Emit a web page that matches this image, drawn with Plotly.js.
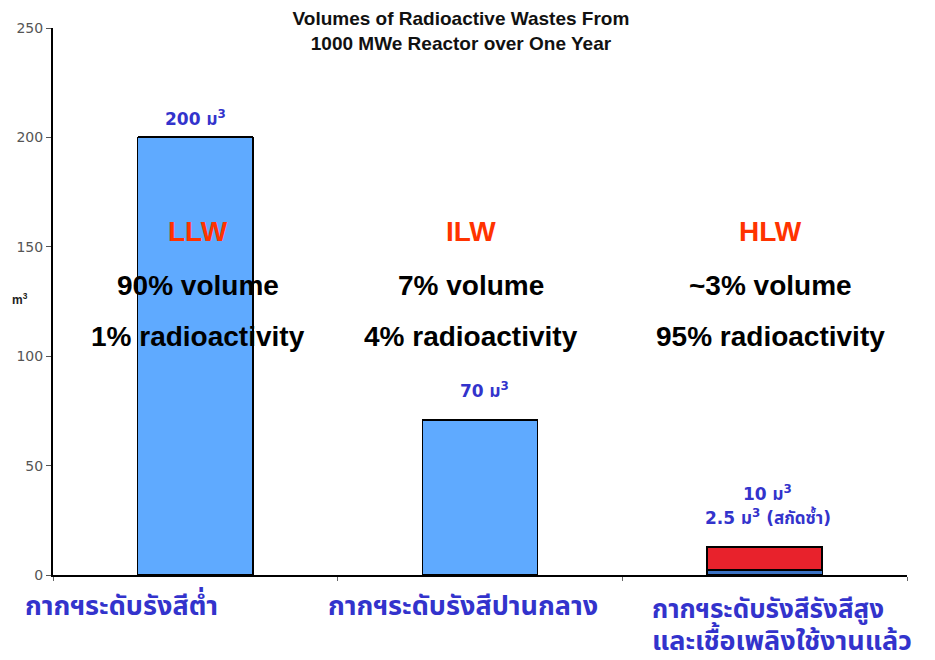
<!DOCTYPE html>
<html>
<head>
<meta charset="utf-8">
<script src="https://cdn.plot.ly/plotly-3.0.1.min.js"></script>
<style>html,body{margin:0;padding:0;background:#fff;}#chart{width:935px;height:660px;}</style>
</head>
<body>
<div id="chart"></div>
<script>
// Data
const categories = ["LLW", "ILW", "HLW"];
const baseVolumes = [200, 71, 2.5];     // m3 (blue)
const extraVolumes = [0, 0, 10.5];      // m3 (red, stacked on HLW)
const classNames = ["LLW", "ILW", "HLW"];
const volumeShare = ["90% volume", "7% volume", "~3% volume"];
const activityShare = ["1% radioactivity", "4% radioactivity", "95% radioactivity"];
const valueLabels = ["200 ม<sup>3</sup>", "70 ม<sup>3</sup>", "10 ม<sup>3</sup>"];
const hlwSubLabel = "2.5 ม<sup>3</sup> (สกัดซ้ำ)";
const thaiLabels = ["กากฯระดับรังสีต่ำ", "กากฯระดับรังสีปานกลาง", "กากฯระดับรังสีรังสีสูง"];
const thaiLabel3Line2 = "และเชื้อเพลิงใช้งานแล้ว";
const yTicks = [0, 50, 100, 150, 200, 250];

const thaiFont = "Tahoma, 'Noto Sans Thai', 'Noto Sans', 'DejaVu Sans', sans-serif";
const valFont = "'DejaVu Sans', Verdana, 'Noto Sans Thai', sans-serif";
const arial = "Arial, 'Liberation Sans', sans-serif";
const purple = "#3333cc";

const traces = [
  {
    type: "bar", x: categories, y: baseVolumes, width: 0.405,
    marker: {color: ["#5faaff", "#5faaff", "#3a72c4"], line: {color: "#000", width: 1.5}},
    hoverinfo: "skip"
  },
  {
    type: "bar", x: categories, y: extraVolumes, width: 0.405,
    marker: {color: "#e8222c", line: {color: "#000", width: 2}},
    hoverinfo: "skip"
  }
];

const colX = [0.01, 0.97, 2.02];
const annotations = [];
categories.forEach((c, i) => {
  annotations.push({x: colX[i], y: 156.8, xref: "x", yref: "y", yanchor: "middle", text: "<b>" + classNames[i] + "</b>",
    showarrow: false, font: {family: arial, size: 28, color: "#ff3300"}});
  annotations.push({x: colX[i], y: 132.5, xref: "x", yref: "y", yanchor: "middle", text: "<b>" + volumeShare[i] + "</b>",
    showarrow: false, font: {family: arial, size: 28, color: "#000"}});
  annotations.push({x: colX[i], y: 109.2, xref: "x", yref: "y", yanchor: "middle", text: "<b>" + activityShare[i] + "</b>",
    showarrow: false, font: {family: arial, size: 28, color: "#000"}});
});
const valX = [0.002, 1.017, 2.01];
const valY = [208.9, 84.6, 37.5];
valueLabels.forEach((t, i) => {
  annotations.push({x: valX[i], y: valY[i], xref: "x", yref: "y", yanchor: "middle", text: "<b>" + t + "</b>",
    showarrow: false, font: {family: valFont, size: 17, color: purple}});
});
annotations.push({x: 2.01, y: 26.5, xref: "x", yref: "y", yanchor: "middle", text: "<b>" + hlwSubLabel + "</b>",
  showarrow: false, font: {family: valFont, size: 17, color: purple}});

// Thai category labels below the axis
annotations.push({x: -0.261, y: -0.0585, xref: "x", yref: "paper", yanchor: "middle", text: "<b>" + thaiLabels[0] + "</b>",
  showarrow: false, font: {family: thaiFont, size: 27, color: purple}});
annotations.push({x: 0.94, y: -0.0585, xref: "x", yref: "paper", yanchor: "middle", text: "<b>" + thaiLabels[1] + "</b>",
  showarrow: false, font: {family: thaiFont, size: 27, color: purple}});
annotations.push({x: 1.597, y: -0.064, xref: "x", yref: "paper", xanchor: "left", yanchor: "middle", text: "<b>" + thaiLabels[2] + "</b>",
  showarrow: false, font: {family: thaiFont, size: 26, color: purple}});
annotations.push({x: 1.597, y: -0.1215, xref: "x", yref: "paper", xanchor: "left", yanchor: "middle", text: "<b>" + thaiLabel3Line2 + "</b>",
  showarrow: false, font: {family: thaiFont, size: 27, color: purple}});

annotations.push({x: -0.05, y: 0.505, xref: "paper", yref: "paper", yanchor: "middle", text: "<b>m<sup>3</sup></b>",
  showarrow: false, font: {family: arial, size: 12, color: "#222"}});

const layout = {
  width: 935, height: 660,
  margin: {l: 53, r: 28, t: 28, b: 85},
  paper_bgcolor: "#fff", plot_bgcolor: "#fff",
  showlegend: false,
  barmode: "stack",
  title: {text: "<b>Volumes of Radioactive Wastes From<br>1000 MWe Reactor over One Year</b>",
    x: 0.493, xanchor: "center", y: 0.962, yanchor: "middle", yref: "container",
    font: {family: arial, size: 19, color: "#111"}},
  xaxis: {
    type: "category", range: [-0.5, 2.5], showticklabels: false,
    showline: true, linecolor: "#000", linewidth: 2,
    ticks: "outside", tickson: "boundaries", ticklen: 4, tickcolor: "#666", tickwidth: 1,
    showgrid: false, zeroline: false, fixedrange: true
  },
  yaxis: {
    range: [0, 250], tickvals: yTicks, ticktext: yTicks.map(String),
    showline: true, linecolor: "#000", linewidth: 2,
    ticks: "outside", ticklen: 5, tickcolor: "#555", tickwidth: 1,
    tickfont: {family: "'DejaVu Sans', Verdana, sans-serif", size: 14, color: "#555"},
    showgrid: false, zeroline: false, fixedrange: true
  },
  annotations: annotations
};

Plotly.newPlot("chart", traces, layout, {displayModeBar: false, staticPlot: true});
</script>
</body>
</html>
